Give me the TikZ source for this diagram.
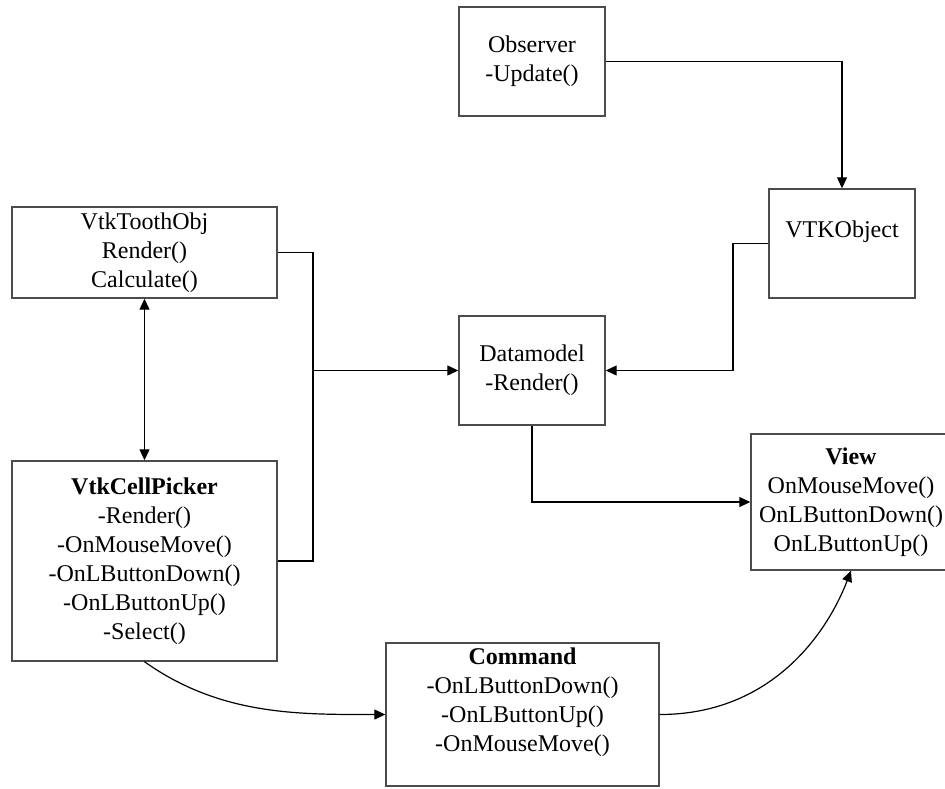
\documentclass[tikz,border=0pt]{standalone}
\usepackage{fontspec}
\setmainfont{Liberation Serif}
\usetikzlibrary{arrows.meta,calc}
\begin{document}
\begin{tikzpicture}[x=0.5pt,y=-0.5pt,
  box/.style={draw=black!70, line width=0.7pt, rectangle, inner sep=0pt, align=center,
    font=\fontsize{12pt}{14.5pt}\selectfont},
  small/.style={minimum width=73pt, minimum height=54.5pt},
  conn/.style={draw=black, line width=0.6pt},
  arr/.style={conn, -{Triangle[length=5.5pt,width=5pt]}},
  darr/.style={conn, {Triangle[length=5.5pt,width=5pt]}-{Triangle[length=5.5pt,width=5pt]}}]
\useasboundingbox (0,0) rectangle (945,788);
\clip (0,0) rectangle (945,788);
\fill[white] (0,0) rectangle (945,788);

\node[box, small] (obs) at (532,61.5) {Observer\\-Update()};
\node[box, small] (vtk) at (842,243.5) {VTKObject\\\mbox{}};
\node[box, small] (dm) at (532,370.5) {Datamodel\\-Render()};
\node[box, minimum width=132.5pt, minimum height=45.5pt] (tooth) at (144.5,252.5)
  {VtkToothObj\\Render()\\Calculate()};
\node[box, minimum width=132.5pt, minimum height=100pt] (pick) at (144.5,561)
  {\textbf{VtkCellPicker}\\-Render()\\-OnMouseMove()\\-OnLButtonDown()\\-OnLButtonUp()\\-Select()};
\node[box, minimum width=100pt, minimum height=68pt] (view) at (851,502)
  {\textbf{View}\\OnMouseMove()\\OnLButtonDown()\\OnLButtonUp()};
\node[box, minimum width=136.5pt, minimum height=71.5pt] (cmd) at (522.5,714.5)
  {\textbf{Command}\\-OnLButtonDown()\\-OnLButtonUp()\\-OnMouseMove()\\\mbox{}};

\coordinate (j1) at (733,300);
\coordinate (bus) at (313,400);

\draw[arr] (obs.east) -| (vtk.north);
\draw[arr] (vtk.west) -| (j1) |- (dm.east);
\draw[conn] (tooth.east) -| (bus) |- (pick.east);
\draw[arr] (bus |- dm.west) -- (dm.west);
\draw[darr] (tooth.south) -- (pick.north);
\draw[arr] (dm.south) |- (view.west);
\draw[arr] (pick.south) .. controls ($(pick.south)+(76,54)$) and ($(cmd.west)+(-86,0)$) .. (cmd.west);
\draw[arr] (cmd.east) .. controls ($(cmd.east)+(110,0)$) and ($(view.south)+(-25,65)$) .. (view.south);
\end{tikzpicture}
\end{document}
